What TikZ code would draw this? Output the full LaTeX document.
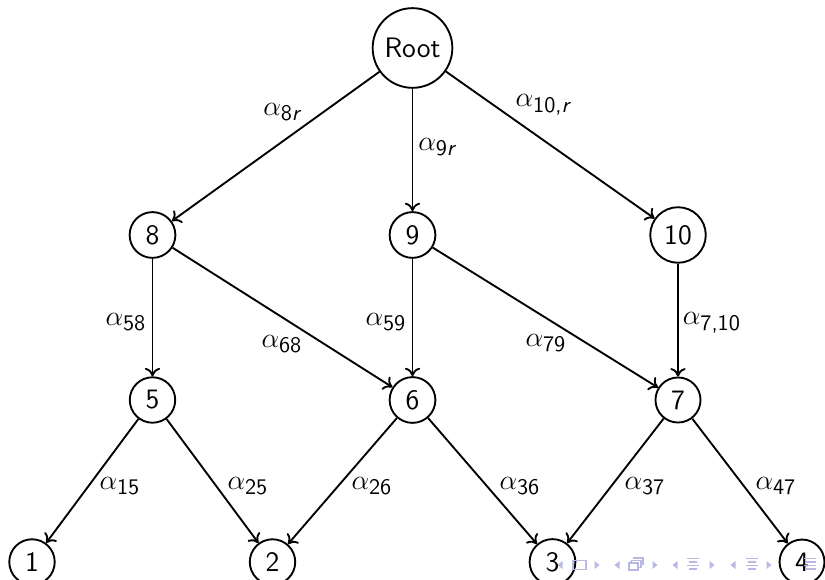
\documentclass[tikz,border=0pt]{standalone}
\usetikzlibrary{arrows.meta}
\definecolor{navc}{RGB}{185,185,228}
\newcommand{\al}[1]{$\alpha_{\mbox{\fontsize{9.5}{10}\selectfont\sffamily #1}}$}
\begin{document}
\begin{tikzpicture}[x=0.015cm,y=-0.015cm,
  nd/.style={circle,draw,line width=0.8pt,font=\fontsize{12}{14}\selectfont\sffamily},
  lb/.style={font=\fontsize{12}{14}\selectfont,inner sep=0pt},
  ar/.style={-{Computer Modern Rightarrow[length=3.6pt,width=6.5pt]},line width=0.8pt},
  nav/.style={fill=navc,draw=none},
  navl/.style={draw=navc,line width=0.6pt}]
\useasboundingbox (0,0) rectangle (825,580);
% nodes
\node[nd] (root) at (412.5,48) {Root};
\node[nd] (n8) at (152.5,235) {8};
\node[nd] (n9) at (412.5,235) {9};
\node[nd] (n10) at (678,235) {10};
\node[nd] (n5) at (152.5,400) {5};
\node[nd] (n6) at (412.5,400) {6};
\node[nd] (n7) at (678,400) {7};
\node[nd] (n1) at (32,562) {1};
\node[nd] (n2) at (272.5,562) {2};
\node[nd] (n3) at (552.5,562) {3};
\node[nd] (n4) at (802,562) {4};
% connectors
\draw[ar] (root) -- (n8);
\draw[ar] (root) -- (n9);
\draw[ar] (root) -- (n10);
\draw[ar] (n8) -- (n5);
\draw[ar] (n8) -- (n6);
\draw[ar] (n9) -- (n6);
\draw[ar] (n9) -- (n7);
\draw[ar] (n10) -- (n7);
\draw[ar] (n5) -- (n1);
\draw[ar] (n5) -- (n2);
\draw[ar] (n6) -- (n2);
\draw[ar] (n6) -- (n3);
\draw[ar] (n7) -- (n3);
\draw[ar] (n7) -- (n4);
% labels
\node[lb] (l8r) at (282,112) {\al{8\itshape r}};
\node[lb] (l9r) at (437,147) {\al{9\itshape r}};
\node[lb] (l10r) at (543,105) {\al{10,\itshape r}};
\node[lb] (l58) at (126,322) {\al{58}};
\node[lb] (l68) at (282,344) {\al{68}};
\node[lb] (l59) at (386,322) {\al{59}};
\node[lb] (l79) at (546,343) {\al{79}};
\node[lb] (l710) at (712,323) {\al{7,10}};
\node[lb] (l15) at (120,486) {\al{15}};
\node[lb] (l25) at (248,486) {\al{25}};
\node[lb] (l26) at (372,486) {\al{26}};
\node[lb] (l36) at (520,486) {\al{36}};
\node[lb] (l37) at (645,486) {\al{37}};
\node[lb] (l47) at (776,486) {\al{47}};
% navigation symbols
\foreach \x in {560,617,675,733} {\fill[nav] (\x+2.5,561) -- (\x-2.5,565) -- (\x+2.5,569) -- cycle;}
\foreach \x in {597,655,712,769} {\fill[nav] (\x-2.5,561) -- (\x+2.5,565) -- (\x-2.5,569) -- cycle;}
\draw[navl] (573,560.5) rectangle (586,569.5);
\draw[navl] (629,563) rectangle (638,570) (631,560.5) -- (631,563) (631,560.5) -- (641,560.5) -- (641,567.5) -- (638,567.5) (633,558) -- (643,558) -- (643,565);
\draw[navl] (687,558.5) -- (699,558.5) (689,562) -- (697,562) (687,565.5) -- (699,565.5) (689,569) -- (697,569);
\draw[navl] (746,558.5) -- (758,558.5) (748,562) -- (756,562) (746,565.5) -- (758,565.5) (748,569) -- (756,569);
\draw[navl] (804,558.5) -- (816,558.5) (806,562) -- (816,562) (804,565.5) -- (816,565.5) (806,569) -- (816,569);
\end{tikzpicture}
\end{document}
